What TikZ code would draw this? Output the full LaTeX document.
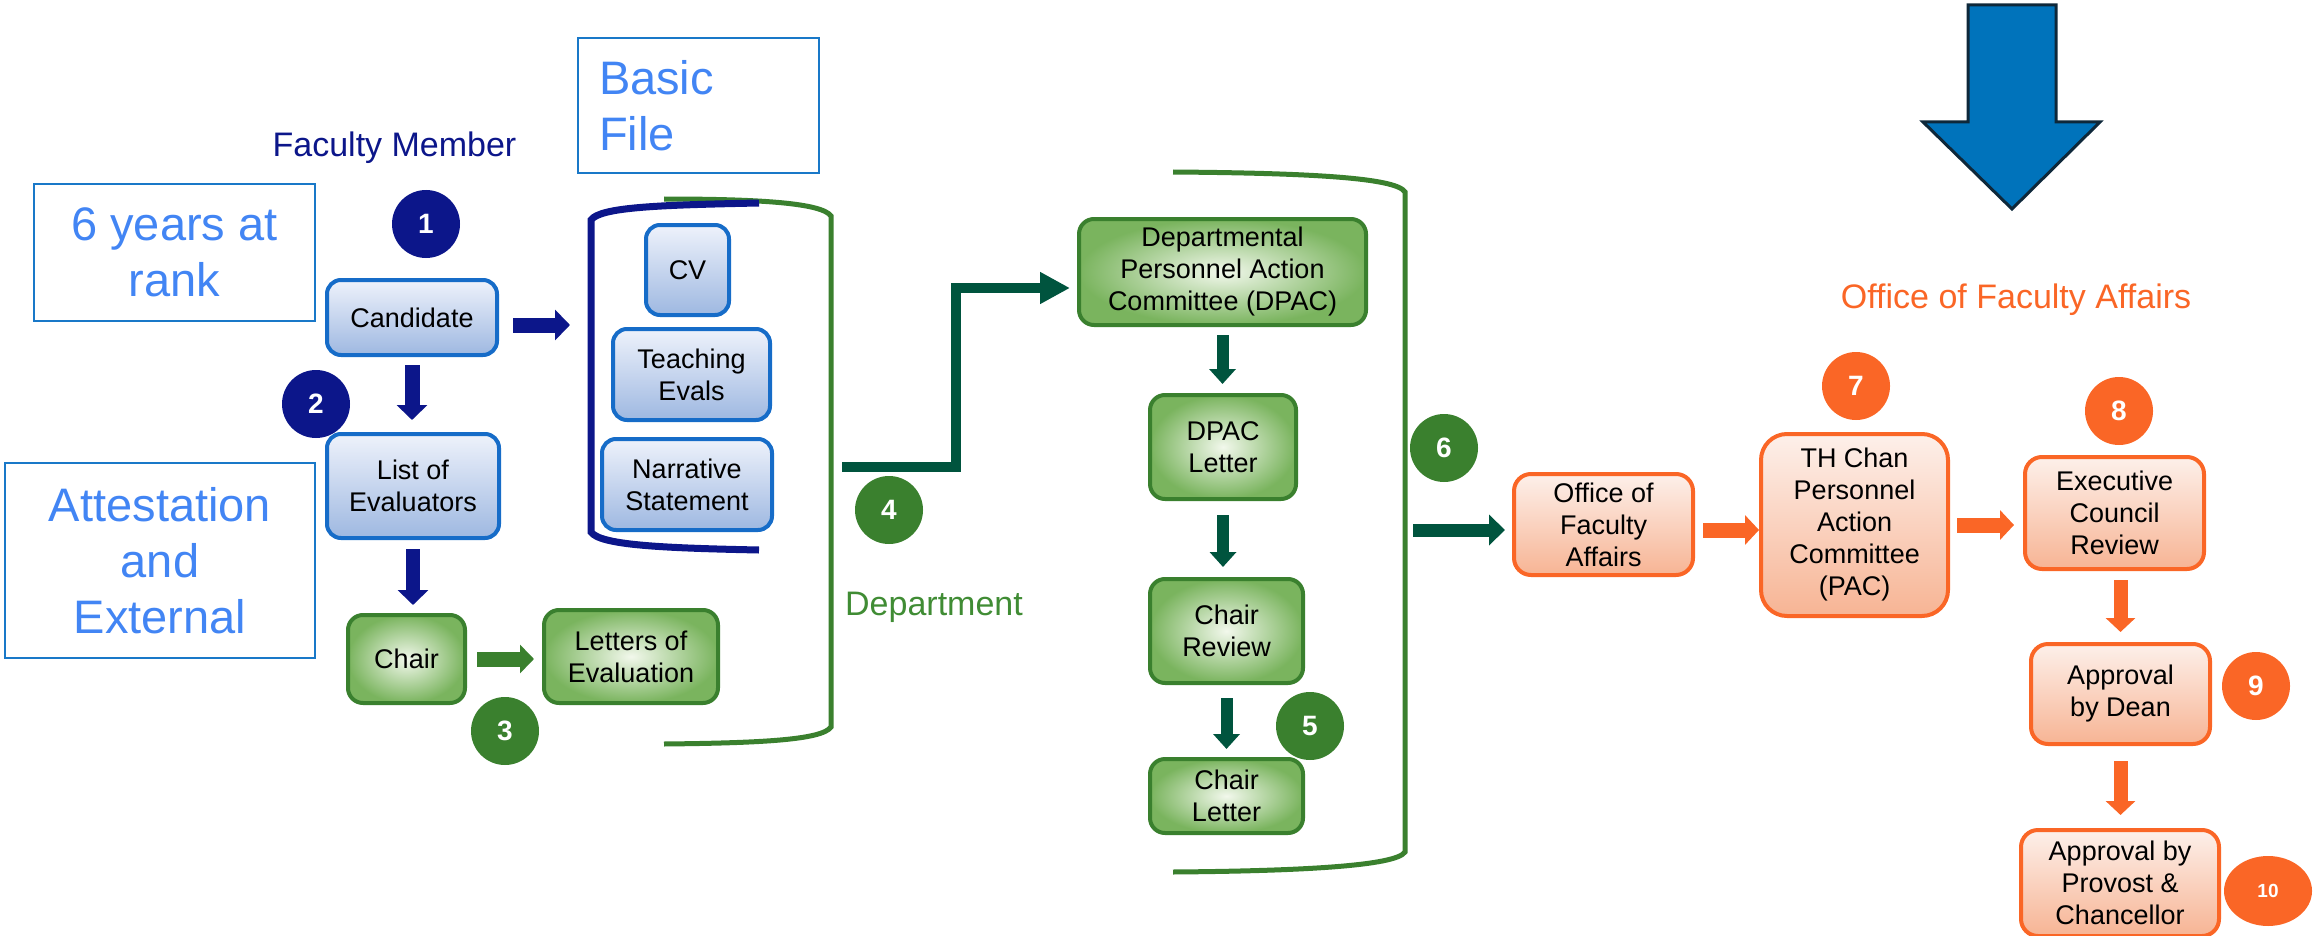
\documentclass[tikz,border=0pt]{standalone}
\usepackage{fontspec}
\setmainfont{Liberation Sans}
\usepackage{tikz}
\usetikzlibrary{shapes,arrows.meta}
\definecolor{fmNavy}{RGB}{12,22,138}
\definecolor{fmBorder}{RGB}{22,108,200}
\definecolor{fmTop}{RGB}{238,242,251}
\definecolor{fmBottom}{RGB}{158,184,225}
\definecolor{noteBlue}{RGB}{66,133,244}
\definecolor{noteBorder}{RGB}{25,120,200}
\definecolor{dpGreen}{RGB}{58,128,46}
\definecolor{dpLight}{RGB}{242,248,236}
\definecolor{dpDark}{RGB}{122,180,94}
\definecolor{dpTeal}{RGB}{0,84,62}
\definecolor{dpText}{RGB}{64,140,52}
\definecolor{ofaOrange}{RGB}{250,102,38}
\definecolor{ofaTop}{RGB}{253,240,234}
\definecolor{ofaBottom}{RGB}{247,180,148}
\definecolor{bigBlue}{RGB}{0,115,187}
\definecolor{bigEdge}{RGB}{14,40,58}
\newcommand{\boxfont}{\fontsize{27}{32}\selectfont}
\newcommand{\notefont}{\fontsize{47}{56}\selectfont}
\newcommand{\grpfont}{\fontsize{34}{40}\selectfont}
\newcommand{\numfont}{\fontsize{28}{32}\selectfont\bfseries}

\begin{document}
\begin{tikzpicture}[x=1pt, y=-1pt]%
  \tikzset{navy arrow/.style={draw,-{Triangle[length=15pt,width=30pt]},line width=15pt,fmNavy}}
  \tikzset{green arrow/.style={draw,-{Triangle[length=14pt,width=28pt]},line width=15pt,dpGreen}}
  \tikzset{teal arrow/.style={draw,-{Triangle[length=15pt,width=26pt]},line width=12pt,dpTeal}}
  \tikzset{orange arrow/.style={draw,-{Triangle[length=14pt,width=29pt]},line width=15pt,ofaOrange}}
  \tikzset{blue box/.style={draw=fmBorder, line width=4pt, rounded corners=14pt, top color=fmTop, bottom color=fmBottom}}
  \tikzset{green box/.style={draw=dpGreen, line width=4pt, rounded corners=15pt, inner color=dpLight, outer color=dpDark}}
  \tikzset{orange box/.style={draw=ofaOrange, line width=4pt, rounded corners=17pt, top color=ofaTop, bottom color=ofaBottom}}
  \tikzset{note box/.style={draw=noteBorder, line width=2pt, text=noteBlue, font=\notefont}}
  \tikzset{navy num/.style={circle, fill=fmNavy, text=white, minimum size=68pt, font=\numfont}}
  \tikzset{green num/.style={circle, fill=dpGreen, text=white, minimum size=68pt, font=\numfont}}
  \tikzset{orange num/.style={circle, fill=ofaOrange, text=white, minimum size=68pt, font=\numfont}}
  \tikzstyle{every node}=[inner sep=0pt, outer sep=0pt, align=center, text=black, font=\boxfont]

  \useasboundingbox (0,0) rectangle (2317,936);

  % notes
  \node[note box, minimum width=281pt, minimum height=137pt] at (174.5,252.5) (YRS) {6 years at\\rank};
  \node[note box, minimum width=241pt, minimum height=135pt, text width=199pt, inner xsep=21pt, align=left] at (698.5,105.5) (BF) {Basic\\File};
  \node[note box, minimum width=310pt, minimum height=195pt] at (160,560.5) (AE) {Attestation\\and\\External};

  \node[anchor=base, text=fmNavy, font=\grpfont] at (394.5,157) (FM) {Faculty Member};
  \node[anchor=base, text=dpText, font=\grpfont] at (934,615) (DEPT) {Department};
  \node[anchor=base, text=ofaOrange, font=\grpfont] at (2016,308) (OFAT) {Office of Faculty Affairs};

  % brackets
  \draw[dpGreen, line width=5pt] (664,199) .. controls (760,199) and (822,203) .. (831,216) -- (831,727) .. controls (822,740) and (760,743) .. (664,744);
  \draw[fmNavy, line width=7pt] (759,203) .. controls (660,205) and (600,207) .. (591,220) -- (591,532) .. controls (600,545) and (660,548) .. (759,550);
  \draw[dpGreen, line width=5pt] (1173,172) .. controls (1300,173) and (1396,177) .. (1405,192) -- (1405,852) .. controls (1396,866) and (1300,871) .. (1173,872);
  \coordinate (B1) at (591,325);
  \coordinate (G1) at (831,467);
  \coordinate (M4) at (956,288);
  \coordinate (G2) at (1405,530);

  \node[blue box, minimum width=170pt, minimum height=75pt] at (412,317.5) (CAND) {Candidate};
  \node[blue box, minimum width=172pt, minimum height=104pt] at (413,486) (LOE) {List of\\Evaluators};
  \node[blue box, minimum width=83pt, minimum height=90pt] at (687.5,270) (CV) {CV};
  \node[blue box, minimum width=157pt, minimum height=91pt] at (691.5,374.5) (TE) {Teaching\\Evals};
  \node[blue box, minimum width=170pt, minimum height=91pt] at (687,484.5) (NS) {Narrative\\Statement};
  \node[green box, minimum width=117pt, minimum height=88pt] at (406.5,659) (CHAIR) {Chair};
  \node[green box, minimum width=174pt, minimum height=93pt] at (631,656.5) (LETT) {Letters of\\Evaluation};
  \node[green box, minimum width=287pt, minimum height=106pt] at (1222.5,272) (DPAC) {Departmental\\Personnel Action\\Committee (DPAC)};
  \node[green box, minimum width=146pt, minimum height=104pt] at (1223,447) (DPACL) {DPAC\\Letter};
  \node[green box, minimum width=153pt, minimum height=104pt] at (1226.5,631) (CR) {Chair\\Review};
  \node[green box, minimum width=153pt, minimum height=74pt] at (1226.5,796) (CL) {Chair\\Letter};
  \node[orange box, minimum width=179pt, minimum height=101pt] at (1603.5,524.5) (OFA) {Office of\\Faculty\\Affairs};
  \node[orange box, minimum width=187pt, minimum height=182pt, rounded corners=26pt] at (1854.5,525) (PAC) {TH Chan\\Personnel\\Action\\Committee\\(PAC)};
  \node[orange box, minimum width=179pt, minimum height=112pt] at (2114.5,513) (ECR) {Executive\\Council\\Review};
  \node[orange box, minimum width=179pt, minimum height=100pt] at (2120.5,694) (AD) {Approval\\by Dean};
  \node[orange box, minimum width=198pt, minimum height=106pt] at (2120,883) (APC) {Approval by\\Provost \&\\Chancellor};

  \node[navy num] at (426,224) (N1) {1};
  \node[navy num] at (316,404) (N2) {2};
  \node[green num] at (505,731) (N3) {3};
  \node[green num] at (889,510) (N4) {4};
  \node[green num] at (1310,726) (N5) {5};
  \node[green num] at (1444,448) (N6) {6};
  \node[orange num] at (1856,386) (N7) {7};
  \node[orange num] at (2119,411) (N8) {8};
  \node[orange num] at (2256,686) (N9) {9};
  \node[orange num, ellipse, minimum width=88pt, minimum height=70pt, font=\fontsize{19}{22}\selectfont\bfseries] at (2268,891) (N10) {10};

  \path (CAND.east |- B1) edge[navy arrow, shorten <=16pt, shorten >=21pt] (B1);
  \path (CAND.south) edge[navy arrow, shorten <=10pt, shorten >=14pt] (CAND.south |- LOE.north);
  \path (LOE.south) edge[navy arrow, line width=14pt, shorten <=11pt, shorten >=10pt] (LOE.south |- CHAIR.north);
  \path (CHAIR.east) edge[green arrow, shorten <=12pt, shorten >=10pt] (CHAIR.east -| LETT.west);
  \draw[teal arrow, line width=10pt, -{Triangle[length=30pt,width=30pt]}, shorten <=11pt, shorten >=9pt] (G1) -| (M4) -- (DPAC.west |- M4);
  \path (DPAC.south) edge[teal arrow, shorten <=10pt, shorten >=11pt] (DPAC.south |- DPACL.north);
  \path (DPACL.south) edge[teal arrow, shorten <=16pt, shorten >=12pt] (DPACL.south |- CR.north);
  \path (CR.south) edge[teal arrow, shorten <=15pt, shorten >=10pt] (CL.north);
  \path (G2) edge[teal arrow, line width=13pt, -{Triangle[length=16pt,width=30pt]}, shorten <=8pt, shorten >=9pt] (G2 -| OFA.west);
  \path (OFA.east |- G2) edge[orange arrow, shorten <=10pt, shorten >=2pt] (G2 -| PAC.west);
  \path (PAC.east) edge[orange arrow, shorten <=9pt, shorten >=11pt] (PAC.east -| ECR.west);
  \path (AD.north |- ECR.south) edge[orange arrow, line width=14pt, shorten <=11pt, shorten >=12pt] (AD.north);
  \path (AD.south) edge[orange arrow, line width=14pt, shorten <=17pt, shorten >=15pt] (AD.south |- APC.north);

  % big arrow
  \draw[fill=bigBlue, draw=bigEdge, line width=3pt] (1968,5) -- (2056,5) -- (2056,122) -- (2100,122) -- (2012,209) -- (1923,122) -- (1968,122) -- cycle;
\end{tikzpicture}
\end{document}
